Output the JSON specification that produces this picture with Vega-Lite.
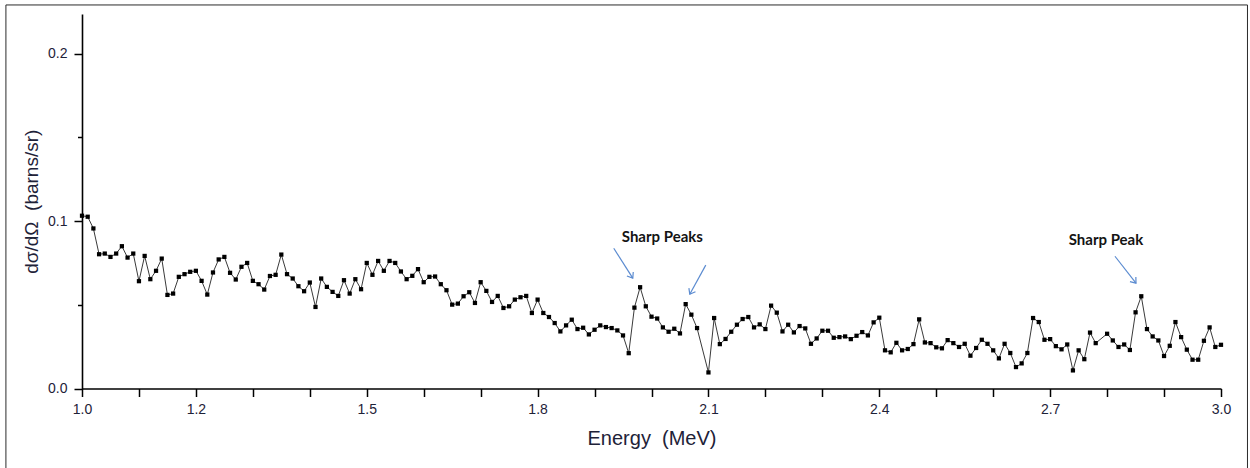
{
  "$schema": "https://vega.github.io/schema/vega-lite/v6.json",
  "width": 1139,
  "height": 374.5,
  "autosize": "none",
  "padding": {"left": 82, "top": 14, "right": 29, "bottom": 80},
  "background": "white",
  "config": {
    "view": {"stroke": null},
    "font": "Liberation Sans"
  },
  "datasets": {
    "spectrum": [
      {"energy": 1.00, "xs": 0.1032}, {"energy": 1.01, "xs": 0.1026}, {"energy": 1.02, "xs": 0.0956}, {"energy": 1.03, "xs": 0.0802},
      {"energy": 1.04, "xs": 0.0806}, {"energy": 1.05, "xs": 0.0786}, {"energy": 1.06, "xs": 0.0806}, {"energy": 1.07, "xs": 0.0850},
      {"energy": 1.08, "xs": 0.0782}, {"energy": 1.09, "xs": 0.0806}, {"energy": 1.10, "xs": 0.0641}, {"energy": 1.11, "xs": 0.0792},
      {"energy": 1.12, "xs": 0.0653}, {"energy": 1.13, "xs": 0.0703}, {"energy": 1.14, "xs": 0.0776}, {"energy": 1.15, "xs": 0.0559},
      {"energy": 1.16, "xs": 0.0567}, {"energy": 1.17, "xs": 0.0667}, {"energy": 1.18, "xs": 0.0683}, {"energy": 1.19, "xs": 0.0697},
      {"energy": 1.20, "xs": 0.0703}, {"energy": 1.21, "xs": 0.0643}, {"energy": 1.22, "xs": 0.0561}, {"energy": 1.23, "xs": 0.0693},
      {"energy": 1.24, "xs": 0.0771}, {"energy": 1.25, "xs": 0.0786}, {"energy": 1.26, "xs": 0.0691}, {"energy": 1.27, "xs": 0.0651},
      {"energy": 1.28, "xs": 0.0727}, {"energy": 1.29, "xs": 0.0750}, {"energy": 1.30, "xs": 0.0643}, {"energy": 1.31, "xs": 0.0623},
      {"energy": 1.32, "xs": 0.0591}, {"energy": 1.33, "xs": 0.0672}, {"energy": 1.34, "xs": 0.0679}, {"energy": 1.35, "xs": 0.0800},
      {"energy": 1.36, "xs": 0.0683}, {"energy": 1.37, "xs": 0.0657}, {"energy": 1.38, "xs": 0.0611}, {"energy": 1.39, "xs": 0.0581},
      {"energy": 1.40, "xs": 0.0633}, {"energy": 1.41, "xs": 0.0487}, {"energy": 1.42, "xs": 0.0657}, {"energy": 1.43, "xs": 0.0607},
      {"energy": 1.44, "xs": 0.0577}, {"energy": 1.45, "xs": 0.0553}, {"energy": 1.46, "xs": 0.0647}, {"energy": 1.47, "xs": 0.0567},
      {"energy": 1.48, "xs": 0.0653}, {"energy": 1.49, "xs": 0.0593}, {"energy": 1.50, "xs": 0.0750}, {"energy": 1.51, "xs": 0.0679},
      {"energy": 1.52, "xs": 0.0762}, {"energy": 1.53, "xs": 0.0703}, {"energy": 1.54, "xs": 0.0762}, {"energy": 1.55, "xs": 0.0750},
      {"energy": 1.56, "xs": 0.0699}, {"energy": 1.57, "xs": 0.0653}, {"energy": 1.58, "xs": 0.0673}, {"energy": 1.59, "xs": 0.0713},
      {"energy": 1.60, "xs": 0.0635}, {"energy": 1.61, "xs": 0.0667}, {"energy": 1.62, "xs": 0.0669}, {"energy": 1.63, "xs": 0.0623},
      {"energy": 1.64, "xs": 0.0587}, {"energy": 1.65, "xs": 0.0501}, {"energy": 1.66, "xs": 0.0507}, {"energy": 1.67, "xs": 0.0551},
      {"energy": 1.68, "xs": 0.0575}, {"energy": 1.69, "xs": 0.0511}, {"energy": 1.70, "xs": 0.0635}, {"energy": 1.71, "xs": 0.0583},
      {"energy": 1.72, "xs": 0.0517}, {"energy": 1.73, "xs": 0.0553}, {"energy": 1.74, "xs": 0.0481}, {"energy": 1.75, "xs": 0.0491},
      {"energy": 1.76, "xs": 0.0531}, {"energy": 1.77, "xs": 0.0545}, {"energy": 1.78, "xs": 0.0553}, {"energy": 1.79, "xs": 0.0451},
      {"energy": 1.80, "xs": 0.0531}, {"energy": 1.81, "xs": 0.0451}, {"energy": 1.82, "xs": 0.0427}, {"energy": 1.83, "xs": 0.0391},
      {"energy": 1.84, "xs": 0.0341}, {"energy": 1.85, "xs": 0.0377}, {"energy": 1.86, "xs": 0.0411}, {"energy": 1.87, "xs": 0.0355},
      {"energy": 1.88, "xs": 0.0363}, {"energy": 1.89, "xs": 0.0323}, {"energy": 1.90, "xs": 0.0351}, {"energy": 1.91, "xs": 0.0377},
      {"energy": 1.92, "xs": 0.0367}, {"energy": 1.93, "xs": 0.0361}, {"energy": 1.94, "xs": 0.0347}, {"energy": 1.95, "xs": 0.0317},
      {"energy": 1.96, "xs": 0.0211}, {"energy": 1.97, "xs": 0.0483}, {"energy": 1.98, "xs": 0.0605}, {"energy": 1.99, "xs": 0.0491},
      {"energy": 2.00, "xs": 0.0429}, {"energy": 2.01, "xs": 0.0418}, {"energy": 2.02, "xs": 0.0365}, {"energy": 2.03, "xs": 0.0339},
      {"energy": 2.04, "xs": 0.0357}, {"energy": 2.05, "xs": 0.0329}, {"energy": 2.06, "xs": 0.0504}, {"energy": 2.07, "xs": 0.0441},
      {"energy": 2.08, "xs": 0.0361}, {"energy": 2.10, "xs": 0.0096}, {"energy": 2.11, "xs": 0.0421},
      {"energy": 2.12, "xs": 0.0265}, {"energy": 2.13, "xs": 0.0296}, {"energy": 2.14, "xs": 0.0339}, {"energy": 2.15, "xs": 0.0381},
      {"energy": 2.16, "xs": 0.0415}, {"energy": 2.17, "xs": 0.0427}, {"energy": 2.18, "xs": 0.0365}, {"energy": 2.19, "xs": 0.0383},
      {"energy": 2.20, "xs": 0.0355}, {"energy": 2.21, "xs": 0.0495}, {"energy": 2.22, "xs": 0.0453}, {"energy": 2.23, "xs": 0.0341},
      {"energy": 2.24, "xs": 0.0381}, {"energy": 2.25, "xs": 0.0335}, {"energy": 2.26, "xs": 0.0373}, {"energy": 2.27, "xs": 0.0359},
      {"energy": 2.28, "xs": 0.0267}, {"energy": 2.29, "xs": 0.0299}, {"energy": 2.30, "xs": 0.0345}, {"energy": 2.31, "xs": 0.0345},
      {"energy": 2.32, "xs": 0.0303}, {"energy": 2.33, "xs": 0.0307}, {"energy": 2.34, "xs": 0.0311}, {"energy": 2.35, "xs": 0.0295},
      {"energy": 2.36, "xs": 0.0315}, {"energy": 2.37, "xs": 0.0337}, {"energy": 2.38, "xs": 0.0317}, {"energy": 2.39, "xs": 0.0395},
      {"energy": 2.40, "xs": 0.0423}, {"energy": 2.41, "xs": 0.0228}, {"energy": 2.42, "xs": 0.0216}, {"energy": 2.43, "xs": 0.0273},
      {"energy": 2.44, "xs": 0.0228}, {"energy": 2.45, "xs": 0.0236}, {"energy": 2.46, "xs": 0.0265}, {"energy": 2.47, "xs": 0.0413},
      {"energy": 2.48, "xs": 0.0275}, {"energy": 2.49, "xs": 0.0271}, {"energy": 2.50, "xs": 0.0246}, {"energy": 2.51, "xs": 0.0240},
      {"energy": 2.52, "xs": 0.0289}, {"energy": 2.53, "xs": 0.0271}, {"energy": 2.54, "xs": 0.0248}, {"energy": 2.55, "xs": 0.0267},
      {"energy": 2.56, "xs": 0.0196}, {"energy": 2.57, "xs": 0.0242}, {"energy": 2.58, "xs": 0.0291}, {"energy": 2.59, "xs": 0.0267},
      {"energy": 2.60, "xs": 0.0228}, {"energy": 2.61, "xs": 0.0180}, {"energy": 2.62, "xs": 0.0267}, {"energy": 2.63, "xs": 0.0212},
      {"energy": 2.64, "xs": 0.0128}, {"energy": 2.65, "xs": 0.0150}, {"energy": 2.66, "xs": 0.0212}, {"energy": 2.67, "xs": 0.0421},
      {"energy": 2.68, "xs": 0.0397}, {"energy": 2.69, "xs": 0.0291}, {"energy": 2.70, "xs": 0.0295}, {"energy": 2.71, "xs": 0.0253},
      {"energy": 2.72, "xs": 0.0234}, {"energy": 2.73, "xs": 0.0263}, {"energy": 2.74, "xs": 0.0108}, {"energy": 2.75, "xs": 0.0228},
      {"energy": 2.76, "xs": 0.0175}, {"energy": 2.77, "xs": 0.0334}, {"energy": 2.78, "xs": 0.0271}, {"energy": 2.80, "xs": 0.0327},
      {"energy": 2.81, "xs": 0.0287}, {"energy": 2.82, "xs": 0.0248}, {"energy": 2.83, "xs": 0.0263}, {"energy": 2.84, "xs": 0.0230},
      {"energy": 2.85, "xs": 0.0455}, {"energy": 2.86, "xs": 0.0551}, {"energy": 2.87, "xs": 0.0355}, {"energy": 2.88, "xs": 0.0311},
      {"energy": 2.89, "xs": 0.0287}, {"energy": 2.90, "xs": 0.0194}, {"energy": 2.91, "xs": 0.0255}, {"energy": 2.92, "xs": 0.0397},
      {"energy": 2.93, "xs": 0.0307}, {"energy": 2.94, "xs": 0.0232}, {"energy": 2.95, "xs": 0.0172}, {"energy": 2.96, "xs": 0.0172},
      {"energy": 2.97, "xs": 0.0285}, {"energy": 2.98, "xs": 0.0365}, {"energy": 2.99, "xs": 0.0248}, {"energy": 3.00, "xs": 0.0261}
    ],
    "notes": [
      {"label": "Sharp Peaks", "energy": 2.019, "xs": 0.0905},
      {"label": "Sharp Peak", "energy": 2.798, "xs": 0.0887}
    ],
    "arrows": [
      {"id": 1, "energy": 1.9337, "xs": 0.0838, "energy2": 1.9671, "xs2": 0.0659},
      {"id": 2, "energy": 2.0953, "xs": 0.0737, "energy2": 2.0672, "xs2": 0.0563},
      {"id": 3, "energy": 2.8138, "xs": 0.0790, "energy2": 2.8507, "xs2": 0.0629}
    ],
    "frame": [{"name": "frame"}]
  },
  "layer": [
    {
      "data": {"name": "frame"},
      "mark": {"type": "rect", "filled": false, "stroke": "#2b2b2b", "strokeWidth": 1, "clip": false},
      "encoding": {
        "x": {"datum": 0.8664, "type": "quantitative"},
        "x2": {"datum": 3.0465},
        "y": {"datum": 0.2291, "type": "quantitative"},
        "y2": {"datum": -0.07}
      }
    },
    {
      "data": {"name": "spectrum"},
      "mark": {"type": "line", "color": "#3a3a3a", "strokeWidth": 1},
      "encoding": {
        "x": {
          "field": "energy", "type": "quantitative",
          "scale": {"domain": [1, 3], "nice": false, "zero": false},
          "axis": {
            "title": "Energy\u00a0 (MeV)",
            "values": [1, 1.05, 1.1, 1.15, 1.2, 1.25, 1.3, 1.35, 1.4, 1.45, 1.5, 1.55, 1.6, 1.65, 1.7, 1.75, 1.8, 1.85, 1.9, 1.95, 2, 2.05, 2.1, 2.15, 2.2, 2.25, 2.3, 2.35, 2.4, 2.45, 2.5, 2.55, 2.6, 2.65, 2.7, 2.75, 2.8, 2.85, 2.9, 2.95, 3],
            "labelExpr": "(abs(datum.value*10 - round(datum.value*10)) < 0.001 && indexof(['1.0','1.2','1.5','1.8','2.1','2.4','2.7','3.0'], format(datum.value, '.1f')) >= 0) ? format(datum.value, '.1f') : ''",
            "labelOverlap": false,
            "labelFlush": false,
            "labelFont": "Liberation Sans",
            "labelFontSize": 14,
            "labelColor": "#1e2238",
            "labelPadding": 6,
            "grid": false,
            "domainColor": "#000000",
            "domainWidth": 1.6,
            "tickColor": "#000000",
            "tickWidth": 1.5,
            "tickSize": {"condition": {"test": "abs(datum.value*10 - round(datum.value*10)) < 0.001", "value": 8}, "value": 4.5},
            "titleFont": "Liberation Sans",
            "titleFontSize": 20,
            "titleFontWeight": "normal",
            "titleColor": "#1e2238",
            "titlePadding": 12
          }
        },
        "y": {
          "field": "xs", "type": "quantitative",
          "scale": {"domain": [0, 0.2237], "nice": false},
          "axis": {
            "title": "dσ/dΩ\u00a0 (barns/sr)",
            "values": [0, 0.05, 0.1, 0.15, 0.2],
            "labelExpr": "(abs(datum.value*10 - round(datum.value*10)) < 0.001) ? format(datum.value, '.1f') : ''",
            "labelOverlap": false,
            "labelFlush": false,
            "labelFont": "Liberation Sans",
            "labelFontSize": 14,
            "labelColor": "#1e2238",
            "labelPadding": 7,
            "grid": false,
            "domainColor": "#000000",
            "domainWidth": 1.6,
            "tickColor": "#000000",
            "tickWidth": 1.5,
            "tickSize": {"condition": {"test": "abs(datum.value*10 - round(datum.value*10)) < 0.001", "value": 8}, "value": 4.5},
            "titleFont": "Liberation Sans",
            "titleFontSize": 19,
            "titleFontWeight": "normal",
            "titleColor": "#1e2238",
            "titlePadding": 6
          }
        }
      }
    },
    {
      "data": {"name": "spectrum"},
      "mark": {"type": "point", "shape": "square", "filled": true, "color": "#000000", "size": 18, "opacity": 1},
      "encoding": {
        "x": {"field": "energy", "type": "quantitative"},
        "y": {"field": "xs", "type": "quantitative"}
      }
    },
    {
      "data": {"name": "arrows"},
      "mark": {"type": "rule", "color": "#5b8bd0", "strokeWidth": 1.2},
      "encoding": {
        "x": {"field": "energy", "type": "quantitative"},
        "y": {"field": "xs", "type": "quantitative"},
        "x2": {"field": "energy2"},
        "y2": {"field": "xs2"}
      }
    },
    {
      "data": {"name": "arrows"},
      "transform": [{"filter": "datum.id == 1"}],
      "mark": {"type": "point", "shape": "M-1,-0.75L0,0L-1,0.75", "filled": false, "stroke": "#5b8bd0", "strokeWidth": 1.2, "size": 100, "angle": 57.7, "opacity": 1},
      "encoding": {
        "x": {"field": "energy2", "type": "quantitative"},
        "y": {"field": "xs2", "type": "quantitative"}
      }
    },
    {
      "data": {"name": "arrows"},
      "transform": [{"filter": "datum.id == 2"}],
      "mark": {"type": "point", "shape": "M-1,-0.75L0,0L-1,0.75", "filled": false, "stroke": "#5b8bd0", "strokeWidth": 1.2, "size": 100, "angle": 118.9, "opacity": 1},
      "encoding": {
        "x": {"field": "energy2", "type": "quantitative"},
        "y": {"field": "xs2", "type": "quantitative"}
      }
    },
    {
      "data": {"name": "arrows"},
      "transform": [{"filter": "datum.id == 3"}],
      "mark": {"type": "point", "shape": "M-1,-0.75L0,0L-1,0.75", "filled": false, "stroke": "#5b8bd0", "strokeWidth": 1.2, "size": 100, "angle": 52.1, "opacity": 1},
      "encoding": {
        "x": {"field": "energy2", "type": "quantitative"},
        "y": {"field": "xs2", "type": "quantitative"}
      }
    },
    {
      "data": {"name": "notes"},
      "mark": {"type": "text", "font": "Lato", "fontSize": 15, "fontWeight": "bold", "color": "#141414", "align": "center", "baseline": "middle"},
      "encoding": {
        "x": {"field": "energy", "type": "quantitative"},
        "y": {"field": "xs", "type": "quantitative"},
        "text": {"field": "label"}
      }
    }
  ]
}
